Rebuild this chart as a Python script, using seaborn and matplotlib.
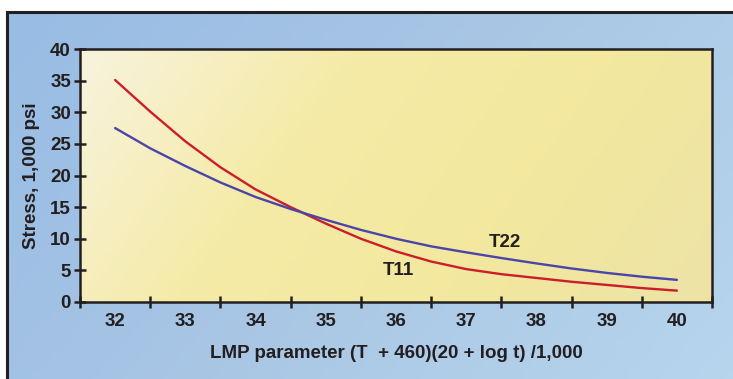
import numpy as np
import pandas as pd
import seaborn as sns
import matplotlib.pyplot as plt
from matplotlib.colors import LinearSegmentedColormap

# LMP parameter values (half-unit steps)
lmp = [32.0, 32.5, 33.0, 33.5, 34.0, 34.5, 35.0, 35.5, 36.0,
       36.5, 37.0, 37.5, 38.0, 38.5, 39.0, 39.5, 40.0]
# Stress, 1,000 psi
t11 = [35.1, 30.1, 25.4, 21.3, 17.8, 15.0, 12.4, 10.0, 8.0,
       6.4, 5.2, 4.4, 3.8, 3.2, 2.7, 2.2, 1.8]
t22 = [27.5, 24.3, 21.5, 18.9, 16.6, 14.7, 13.0, 11.4, 10.0,
       8.8, 7.85, 6.95, 6.1, 5.3, 4.6, 4.0, 3.5]

x_labels = [32, 33, 34, 35, 36, 37, 38, 39, 40]
y_ticks = [0, 5, 10, 15, 20, 25, 30, 35, 40]

df = pd.concat([
    pd.DataFrame({"LMP": lmp, "Stress": t11, "Steel": "T11"}),
    pd.DataFrame({"LMP": lmp, "Stress": t22, "Steel": "T22"}),
])

sns.set_theme(style="white")
plt.rcParams["font.family"] = ["Liberation Sans", "DejaVu Sans"]
plt.rcParams["font.weight"] = "bold"
ink = "#231f20"
fs = 13.5

fig = plt.figure(figsize=(7.33, 3.79), dpi=100)
fig.patch.set_facecolor("white")

# blue panel with gradient, framed on top and left
bg = fig.add_axes([7 / 733, 0, 1 - 7 / 733, 1 - 12 / 379])
blue = LinearSegmentedColormap.from_list("bg", ["#98bce4", "#a9c6e4", "#b8d5ee"])
gx, gy = np.meshgrid(np.linspace(0, 1, 200), np.linspace(0, 1, 100))
bg.imshow(gx * 0.7 + gy * 0.3, cmap=blue, aspect="auto",
          extent=[0, 1, 0, 1], origin="upper", vmin=0, vmax=1)
bg.set_xlim(0, 1)
bg.set_ylim(0, 1)
bg.set_xticks([])
bg.set_yticks([])
for side in ["right", "bottom"]:
    bg.spines[side].set_visible(False)
for side in ["left", "top"]:
    bg.spines[side].set_color(ink)
    bg.spines[side].set_linewidth(2.2)

# plot panel, cream fading to yellow
ax = fig.add_axes([80 / 733, 1 - 302 / 379, 632 / 733, 253 / 379])
cream = LinearSegmentedColormap.from_list(
    "cream", ["#f8f3de", "#f5eba8", "#f3e89e", "#ede3a6"])
ax.imshow(gx * 0.78 + gy * 0.22, cmap=cream, aspect="auto",
          extent=[31.5, 40.5, 0, 40], origin="upper", vmin=0, vmax=1, zorder=0)

sns.lineplot(data=df, x="LMP", y="Stress", hue="Steel",
             palette={"T11": "#cc1d2b", "T22": "#4b45a8"},
             linewidth=1.7, legend=False, ax=ax, zorder=3)

ax.set_xlim(31.5, 40.5)
ax.set_ylim(0, 40)
ax.set_xticks(x_labels)
ax.set_xticklabels([str(v) for v in x_labels])
ax.set_xticks(np.arange(31.5, 41, 1.0), minor=True)
ax.set_yticks(y_ticks)
ax.tick_params(axis="x", which="major", length=0, pad=8,
               labelsize=fs, labelcolor=ink)
ax.tick_params(axis="x", which="minor", direction="inout", length=9,
               width=1.8, color=ink, bottom=True)
ax.tick_params(axis="y", direction="inout", length=9, width=1.8,
               color=ink, labelsize=fs, labelcolor=ink, pad=2, left=True)
for lab in ax.get_xticklabels() + ax.get_yticklabels():
    lab.set_fontweight("bold")
for side in ax.spines.values():
    side.set_color(ink)
    side.set_linewidth(1.8)

ax.set_xlabel("LMP parameter (T  + 460)(20 + log t) /1,000",
              fontsize=fs, fontweight="bold", color=ink, labelpad=11)
ax.set_ylabel("Stress, 1,000 psi", fontsize=fs, fontweight="bold",
              color=ink, labelpad=7)

ax.text(37.55, 9.4, "T22", fontsize=fs, fontweight="bold", color=ink,
        ha="center", va="center", zorder=4)
ax.text(36.03, 5.05, "T11", fontsize=fs, fontweight="bold", color=ink,
        ha="center", va="center", zorder=4)

fig.savefig("out.png", dpi=100)
